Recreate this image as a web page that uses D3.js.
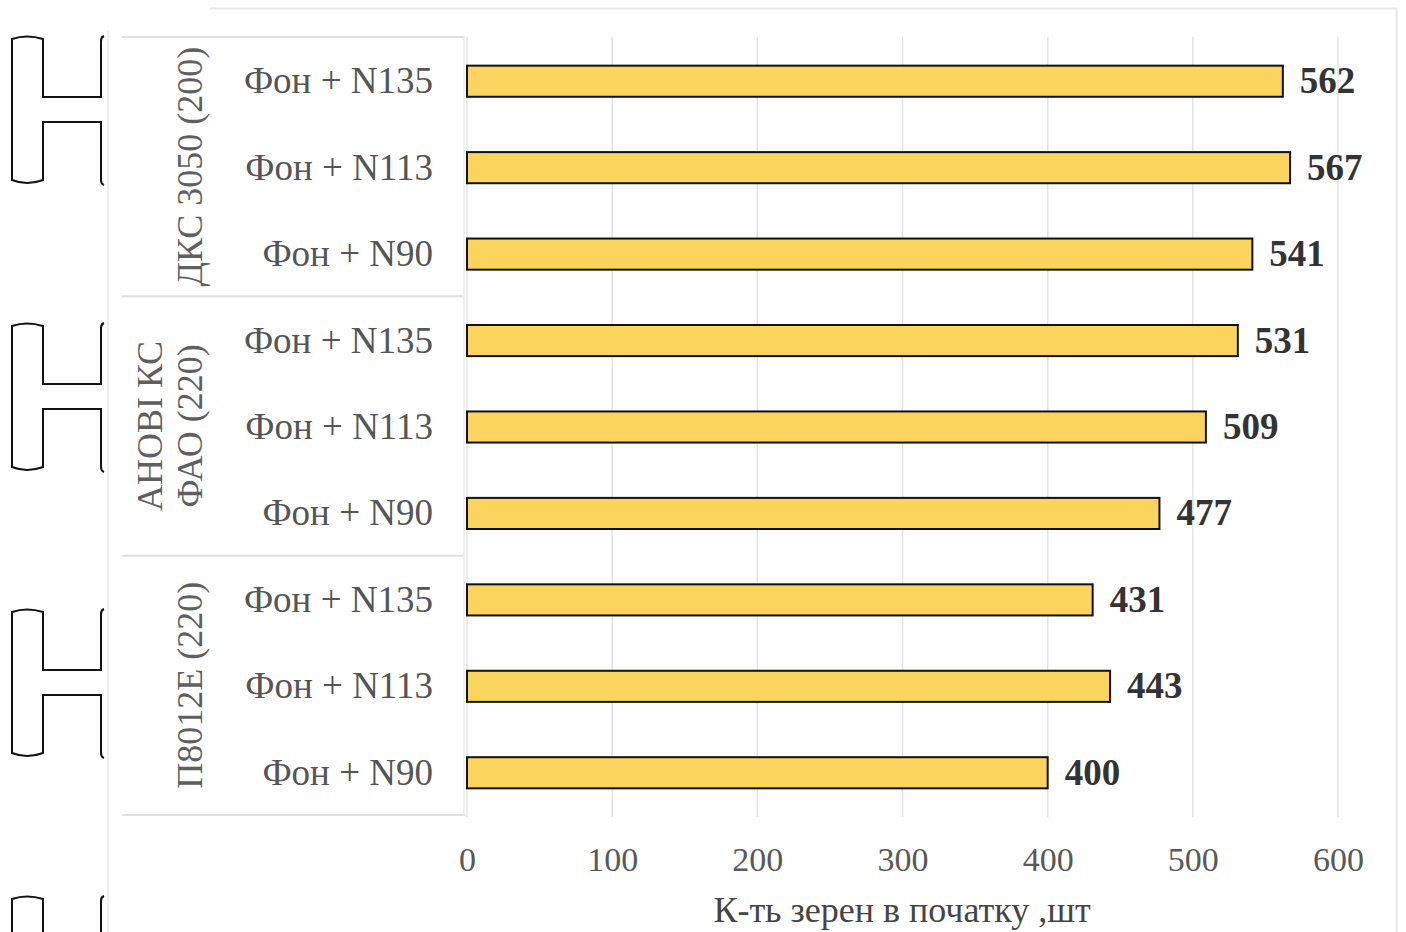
<!DOCTYPE html>
<html><head><meta charset="utf-8">
<script src="https://cdn.jsdelivr.net/npm/d3@7"></script>
<style>html,body{margin:0;padding:0;background:#fff;}svg{display:block;}</style>
</head><body>
<svg id="chart" width="1406" height="932"></svg>
<script>
// ---- data ----
const groups = ["ДКС 3050 (200)", "АНОВІ КС|ФАО (220)", "П8012Е (220)"];
const treatments = ["Фон + N135", "Фон + N113", "Фон + N90"];
const values = [
  [562, 567, 541],
  [531, 509, 477],
  [431, 443, 400]
];
const xTicks = [0, 100, 200, 300, 400, 500, 600];
const xTitle = "К-ть зерен в початку ,шт";
const bracketOffsets = [35, 322, 608, 895];

const rows = [];
groups.forEach((g, gi) => treatments.forEach((t, ti) => rows.push({id: gi + "-" + ti, group: gi, label: t, value: values[gi][ti]})));

const svg = d3.select("#chart");
const serif = "'Liberation Serif','Times New Roman',serif";

// frame decorations
svg.append("path").attr("d", "M210,8.5H1396.5V932").attr("fill", "none").attr("stroke", "#e6e6e6").attr("stroke-width", 2);
svg.append("line").attr("x1", 108).attr("x2", 108).attr("y1", 30).attr("y2", 932).attr("stroke", "#efefef").attr("stroke-width", 2);

const x = d3.scaleLinear().domain([0, 600]).range([467, 1338]);
const y = d3.scaleBand().domain(rows.map(r => r.id)).range([37, 815]).paddingInner(0.64).paddingOuter(0.32);
const gy = d3.scaleBand().domain(groups.map((g, i) => i)).range([37, 815]);

// gridlines
svg.append("g").selectAll("line").data(xTicks).join("line")
  .attr("x1", d => x(d)).attr("x2", d => x(d)).attr("y1", 37).attr("y2", 817)
  .attr("stroke", "#e3e3e3").attr("stroke-width", 1.5);

// group boxes
const gb = svg.append("g");
gb.selectAll("line.h").data([0, 1, 2, 3]).join("line").attr("class", "h")
  .attr("x1", 122).attr("x2", 465)
  .attr("y1", d => d < 3 ? gy(d) : gy(2) + gy.bandwidth())
  .attr("y2", d => d < 3 ? gy(d) : gy(2) + gy.bandwidth())
  .attr("stroke", "#e0e0e0").attr("stroke-width", 2);
gb.append("line").attr("x1", 464).attr("x2", 464).attr("y1", 37).attr("y2", 815).attr("stroke", "#f0f0f0").attr("stroke-width", 2);

// bars
svg.append("g").selectAll("rect").data(rows).join("rect")
  .attr("x", x(0)).attr("y", d => y(d.id) + 1)
  .attr("width", d => x(d.value) - x(0)).attr("height", y.bandwidth())
  .attr("fill", "#FAD45C").attr("stroke", "#111").attr("stroke-width", 2);

// value labels
svg.append("g").selectAll("text").data(rows).join("text")
  .attr("x", d => x(d.value) + 17).attr("y", d => y(d.id) + y.bandwidth() / 2 + 13)
  .attr("font-family", serif).attr("font-weight", "bold").attr("font-size", 37).attr("fill", "#333")
  .text(d => d.value);

// category labels
svg.append("g").selectAll("text").data(rows).join("text")
  .attr("x", 433).attr("y", d => y(d.id) + y.bandwidth() / 2 + 13)
  .attr("text-anchor", "end").attr("font-family", serif).attr("font-size", 37).attr("fill", "#555")
  .text(d => d.label);

// group labels (rotated)
groups.forEach((g, gi) => {
  const lines = g.split("|");
  const cy = gy(gi) + gy.bandwidth() / 2;
  const t = svg.append("text").attr("transform", `translate(190,${cy}) rotate(-90)`)
    .attr("text-anchor", "middle").attr("font-family", serif).attr("font-size", 36).attr("fill", "#5f5f5f");
  lines.forEach((ln, li) => {
    t.append("tspan").attr("x", 0).attr("y", 12 - (lines.length - 1 - li) * 40).text(ln);
  });
});

// x axis
const axis = svg.append("g").attr("transform", "translate(0,847)")
  .call(d3.axisBottom(x).tickValues(xTicks).tickSize(0).tickPadding(0));
axis.select(".domain").remove();
axis.selectAll("text").attr("font-family", serif).attr("font-size", 34).attr("fill", "#595959").attr("dy", "0.72em");

svg.append("text").attr("x", 902).attr("y", 922).attr("text-anchor", "middle")
  .attr("font-family", serif).attr("font-size", 36).attr("fill", "#444").text(xTitle);

// bracket decorations on the left
const bracket = oy => {
  const p = d3.path();
  p.moveTo(104, oy + 1); p.quadraticCurveTo(101, oy + 2, 101, oy + 6);
  p.lineTo(101, oy + 62); p.lineTo(43, oy + 62); p.lineTo(43, oy + 4);
  p.quadraticCurveTo(27, oy - 1, 12, oy + 4);
  p.lineTo(12, oy + 145);
  p.quadraticCurveTo(27, oy + 151, 43, oy + 145);
  p.lineTo(43, oy + 87); p.lineTo(101, oy + 87); p.lineTo(101, oy + 145);
  p.quadraticCurveTo(101, oy + 149, 104, oy + 150);
  return p.toString();
};
svg.append("g").selectAll("path").data(bracketOffsets).join("path")
  .attr("d", d => bracket(d)).attr("fill", "none").attr("stroke", "#111").attr("stroke-width", 2);
</script>
</body></html>
